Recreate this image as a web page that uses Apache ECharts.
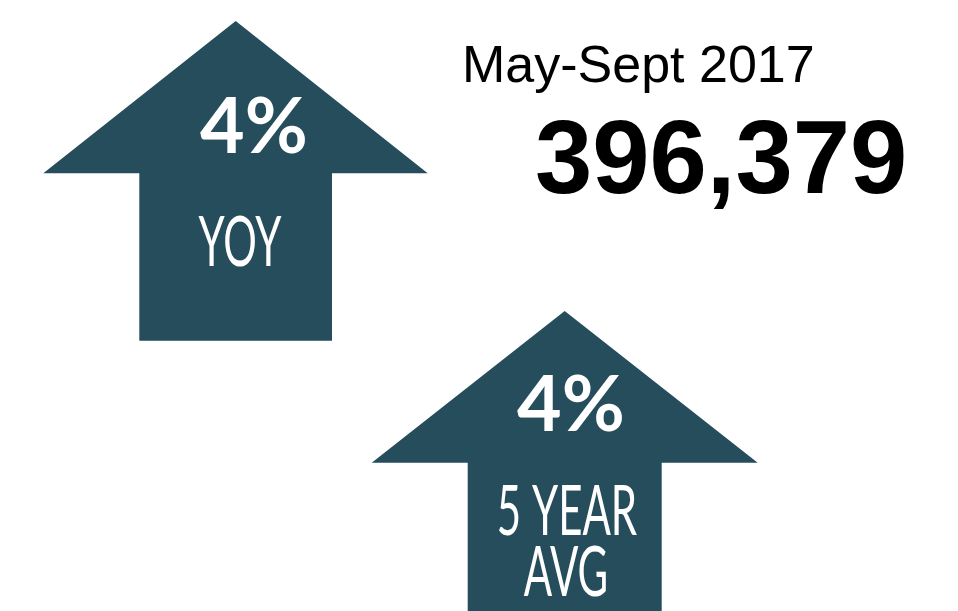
<!DOCTYPE html>
<html>
<head>
<meta charset="utf-8">
<script src="https://cdn.jsdelivr.net/npm/echarts@6/dist/echarts.min.js"></script>
<style>html,body{margin:0;padding:0;background:#fff;}#main{width:958px;height:611px;}</style>
</head>
<body>
<div id="main"></div>
<script>
// Data
var periodLabel = 'May-Sept 2017';
var totalValue = 396379;
var changeValues = [4, 4];
var changeLabels = [['YOY'], ['5 YEAR', 'AVG']];

var ARROW = '#264d5c';
var chart = echarts.init(document.getElementById('main'), null, {renderer: 'canvas'});

var arrows = [
  {cx: 235.7, tipY: 21, baseY: 173.3, headL: 43.3, headR: 427.7, shL: 139.3, shR: 332, bottom: 340.7,
   pctX: 254, pctY: 128, lab: [{x: 240, y: 243}]},
  {cx: 564.7, tipY: 311, baseY: 462.7, headL: 371.7, headR: 757.7, shL: 467.7, shR: 661.7, bottom: 640,
   pctX: 571, pctY: 406, lab: [{x: 567, y: 512}, {x: 566, y: 573}]}
];

var elements = [];
arrows.forEach(function (a, i) {
  elements.push({
    type: 'polygon',
    shape: {points: [[a.cx, a.tipY], [a.headR, a.baseY], [a.shR, a.baseY], [a.shR, a.bottom],
                     [a.shL, a.bottom], [a.shL, a.baseY], [a.headL, a.baseY]]},
    style: {fill: ARROW}
  });
  elements.push({
    type: 'text', x: a.pctX, y: a.pctY,
    style: {text: changeValues[i] + '%', fill: '#fff', fontSize: 77, fontWeight: 'bold',
            fontFamily: 'Lato', textAlign: 'center', textVerticalAlign: 'middle'}
  });
  changeLabels[i].forEach(function (t, j) {
    elements.push({
      type: 'text', x: a.lab[j].x, y: a.lab[j].y, scaleX: 0.6,
      style: {text: t, fill: '#fff', fontSize: 70, fontWeight: 'normal',
              fontFamily: 'Lato', textAlign: 'center', textVerticalAlign: 'middle'}
    });
  });
});

elements.push({
  type: 'text', x: 462, y: 68,
  style: {text: periodLabel, fill: '#000', fontSize: 52, fontFamily: 'Liberation Sans',
          textAlign: 'left', textVerticalAlign: 'middle'}
});
elements.push({
  type: 'text', x: 535, y: 165,
  style: {text: totalValue.toLocaleString('en-US'), fill: '#000', fontSize: 103, fontWeight: 'bold',
          fontFamily: 'Liberation Sans', textAlign: 'left', textVerticalAlign: 'middle'}
});

chart.setOption({
  animation: false,
  backgroundColor: '#fff',
  graphic: {elements: elements}
});
</script>
</body>
</html>
